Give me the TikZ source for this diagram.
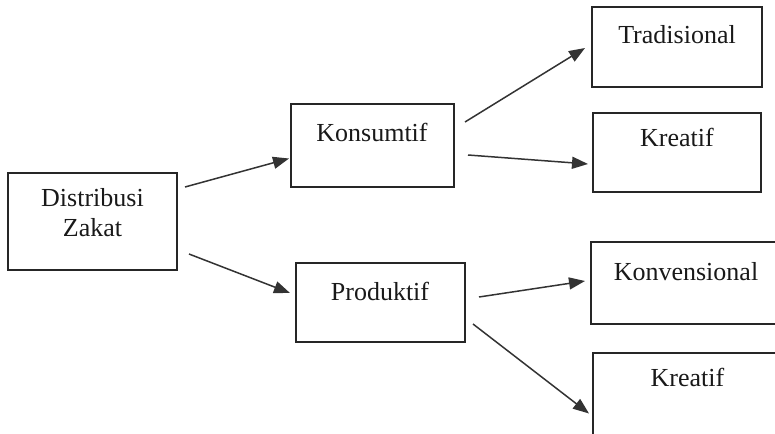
\documentclass[tikz,border=0pt]{standalone}
\usepackage{fontspec}
\setmainfont{Liberation Serif}
\usetikzlibrary{arrows.meta}
\begin{document}
\begin{tikzpicture}[x=1pt,y=-1pt,
  box/.style={draw=black!85,line width=1.3pt,rectangle,inner sep=0pt},
  lbl/.style={anchor=base,inner sep=0pt,font=\fontsize{26}{30}\selectfont,text=black!90},
  conn/.style={draw=black!80,line width=1.5pt,-{Triangle[length=16pt,width=12pt]}}]
\useasboundingbox (0,0) rectangle (775,433);
\clip (0,0) rectangle (775,433);
% boxes
\node[box,minimum width=169pt,minimum height=97pt] (dz) at (92.5,221.5) {};
\node[box,minimum width=163pt,minimum height=83pt] (ko) at (372.5,145.5) {};
\node[box,minimum width=169pt,minimum height=79pt] (pr) at (380.5,302.5) {};
\node[box,minimum width=170pt,minimum height=80pt] (tr) at (677,47) {};
\node[box,minimum width=168pt,minimum height=79pt] (kr1) at (677,152.5) {};
\node[box,minimum width=199pt,minimum height=82pt] (kv) at (690.5,283) {};
\node[box,minimum width=197pt,minimum height=92pt] (kr2) at (691.5,399) {};
% texts
\node[lbl] (tdz) at (92.5,206.5) {Distribusi};
\node[lbl] (tdz2) at (92.5,236.5) {Zakat};
\node[lbl] (tko) at (372,141.5) {Konsumtif};
\node[lbl] (tpr) at (380,300.5) {Produktif};
\node[lbl] (ttr) at (677,43.5) {Tradisional};
\node[lbl] (tkr1) at (677,146.5) {Kreatif};
\node[lbl] (tkv) at (686,280.5) {Konvensional};
\node[lbl] (tkr2) at (687.5,386.5) {Kreatif};
% connector ends
\coordinate (a1s) at (185,187); \coordinate (a1e) at (289,158.5);
\coordinate (a2s) at (189,254); \coordinate (a2e) at (290,293);
\coordinate (a3s) at (465,122); \coordinate (a3e) at (585,48);
\coordinate (a4s) at (468,155); \coordinate (a4e) at (588,164);
\coordinate (a5s) at (479,297); \coordinate (a5e) at (585,281);
\coordinate (a6s) at (473,324); \coordinate (a6e) at (589,413.5);
\draw[conn] (a1s) -- (a1e);
\draw[conn] (a2s) -- (a2e);
\draw[conn] (a3s) -- (a3e);
\draw[conn] (a4s) -- (a4e);
\draw[conn] (a5s) -- (a5e);
\draw[conn] (a6s) -- (a6e);
\end{tikzpicture}
\end{document}
